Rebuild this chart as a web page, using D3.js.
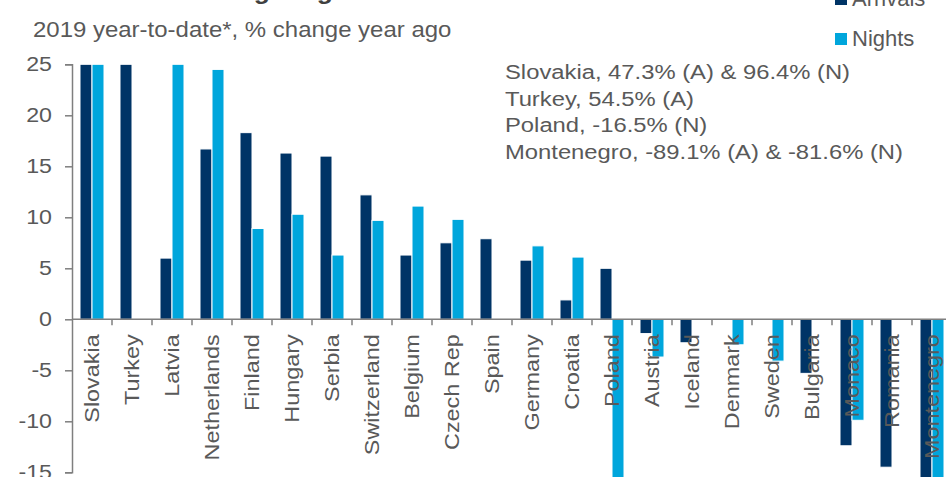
<!DOCTYPE html>
<html>
<head>
<meta charset="utf-8">
<script src="https://cdn.jsdelivr.net/npm/d3@7"></script>
<style>
  html, body { margin: 0; padding: 0; background: #fff; overflow: hidden; }
  text { font-family: "Liberation Sans", Arial, sans-serif; fill: #595959; }
</style>
</head>
<body>
<svg id="chart" width="946" height="477"></svg>
<script>
const categories = ["Slovakia","Turkey","Latvia","Netherlands","Finland","Hungary","Serbia","Switzerland","Belgium","Czech Rep","Spain","Germany","Croatia","Poland","Austria","Iceland","Denmark","Sweden","Bulgaria","Monaco","Romania","Montenegro"];
const arrivals = [47.3, 54.5, 6.0, 16.7, 18.3, 16.3, 16.0, 12.2, 6.3, 7.5, 7.9, 5.8, 1.9, 5.0, -1.4, -2.3, null, null, -5.3, -12.4, -14.5, -89.1];
const nights   = [96.4, null, 25.0, 24.5, 8.9, 10.3, 6.3, 9.7, 11.1, 9.8, null, 7.2, 6.1, -16.5, -3.7, null, -2.5, -4.1, null, -9.9, null, -81.6];
const yTicks = [25, 20, 15, 10, 5, 0, -5, -10, -15];
const seriesNames = ["Arrivals", "Nights"];
const notes = ["Slovakia, 47.3% (A) & 96.4% (N)", "Turkey, 54.5% (A)", "Poland, -16.5% (N)", "Montenegro, -89.1% (A) & -81.6% (N)"];
const subtitle = "2019 year-to-date*, % change year ago";
const title = "Tourist arrivals and nights growth to select destinations";

const colors = { Arrivals: "#003466", Nights: "#00A6DC" };
const svg = d3.select("#chart");

const x0 = d3.scaleBand().domain(categories).range([72, 72 + 40 * categories.length]).padding(0);
const x1 = d3.scaleBand().domain(seriesNames).range([8, 32]).padding(0);
const y = d3.scaleLinear().domain([-15, 25]).range([472.3, 64.3]);

// title (clipped at top)
svg.append("text").attr("transform", "translate(-20,-1) scale(1.1,1)")
  .style("font-size", "24px").style("font-weight", "bold").style("fill", "#404040").text(title);

// subtitle
svg.append("text").attr("transform", "translate(33,37) scale(1.09,1)")
  .style("font-size", "22px").text(subtitle);

// bars
const data = [];
categories.forEach((c, i) => {
  if (arrivals[i] !== null) data.push({ c, s: "Arrivals", v: arrivals[i] });
  if (nights[i] !== null) data.push({ c, s: "Nights", v: nights[i] });
});
const clampV = v => Math.max(-16, Math.min(25, v));
svg.append("g").selectAll("rect").data(data).join("rect")
  .attr("x", d => x0(d.c) + x1(d.s))
  .attr("width", x1.bandwidth())
  .attr("y", d => y(Math.max(0, clampV(d.v))))
  .attr("height", d => Math.abs(y(clampV(d.v)) - y(0)))
  .attr("fill", d => colors[d.s])
  .attr("stroke", "#ffffff").attr("stroke-width", 1);

// y axis
const yAxis = d3.axisLeft(y).tickValues(yTicks).tickFormat(d => String(d)).tickSize(7).tickPadding(5);
const gy = svg.append("g").attr("transform", "translate(72,0)").call(yAxis);
gy.select(".domain").attr("stroke", "#7f7f7f").attr("stroke-width", 1.5);
gy.selectAll(".tick line").attr("stroke", "#7f7f7f").attr("stroke-width", 1.5);
gy.selectAll(".tick text")
  .attr("x", 0).attr("transform", "translate(-20,0) scale(1.16,1)")
  .attr("text-anchor", "end")
  .style("font-size", "20px").attr("fill", "#595959")
  .style("font-family", "'Liberation Sans', Arial, sans-serif");

// x axis line at zero with ticks at band boundaries
const gx = svg.append("g");
gx.append("line").attr("x1", 72).attr("x2", x0.range()[1]).attr("y1", y(0)).attr("y2", y(0))
  .attr("stroke", "#7f7f7f").attr("stroke-width", 1.5);
gx.selectAll("line.t").data(categories.slice(1)).join("line").attr("class", "t")
  .attr("x1", d => x0(d)).attr("x2", d => x0(d))
  .attr("y1", y(0)).attr("y2", y(0) + 6)
  .attr("stroke", "#7f7f7f").attr("stroke-width", 1.5);

// category labels
svg.append("g").selectAll("text").data(categories).join("text")
  .attr("transform", d => `translate(${x0(d) + x0.bandwidth() / 2},${y(0) + 15}) rotate(-90) scale(1.17,1)`)
  .attr("text-anchor", "end").attr("dy", "0.35em")
  .style("font-size", "20px").text(d => d);

// notes
svg.append("g").selectAll("text").data(notes).join("text")
  .attr("transform", (d, i) => `translate(505,${79 + i * 26.7}) scale(1.19,1)`)
  .style("font-size", "20px").text(d => d);

// legend
const lg = svg.append("g");
seriesNames.forEach((s, i) => {
  const ly = -7 + i * 40;
  lg.append("rect").attr("x", 835).attr("y", ly).attr("width", 12).attr("height", 12).attr("fill", colors[s]);
  lg.append("text").attr("x", 852).attr("y", ly + 13).style("font-size", "22px").text(s);
});
</script>
</body>
</html>
